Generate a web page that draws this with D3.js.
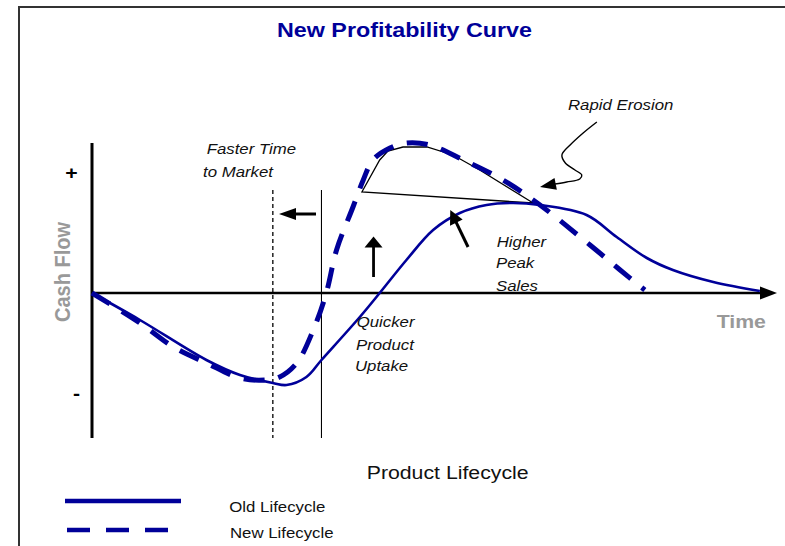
<!DOCTYPE html>
<html>
<head>
<meta charset="utf-8">
<script src="https://cdn.jsdelivr.net/npm/d3@7"></script>
<style>
  body { margin: 0; background: #fff; }
  svg { display: block; font-family: "Liberation Sans", Arial, sans-serif; }
</style>
</head>
<body>
<svg id="chart" width="785" height="546"></svg>
<script>
// time units on x, cash flow units on y
const oldX = [0, 0.70, 1.67, 2.16, 2.64, 2.84, 3.13, 3.35, 3.91, 4.20, 4.59, 4.98, 5.37, 5.76, 6.15, 6.54, 7.22, 7.66, 8.10, 8.48, 9.07, 9.75];
const oldY = [0, -0.27, -0.67, -0.82, -0.90, -0.92, -0.84, -0.67, -0.24, 0, 0.33, 0.63, 0.80, 0.88, 0.90, 0.88, 0.78, 0.56, 0.35, 0.23, 0.11, 0.02];

const newX = [0, 0.70, 1.19, 1.67, 2.16, 2.53, 2.74, 2.99, 3.23, 3.42, 3.57, 3.81, 3.96, 4.10, 4.35, 4.59, 4.93, 5.42, 6.00, 6.54, 7.27, 7.71, 8.07];
const newY = [0, -0.30, -0.54, -0.70, -0.85, -0.87, -0.84, -0.70, -0.37, 0, 0.43, 0.86, 1.13, 1.33, 1.45, 1.50, 1.48, 1.33, 1.13, 0.88, 0.48, 0.23, 0.03];

// outline of the extra peak (higher peak sales)
const peakX = [3.94, 4.20, 4.32, 4.54, 4.89, 5.27, 5.66, 6.44];
const peakY = [1.01, 1.33, 1.42, 1.46, 1.46, 1.38, 1.23, 0.90];

// squiggly "rapid erosion" pointer
const erosionX = [7.37, 7.17, 6.98, 6.86, 6.91, 7.05, 7.15, 7.12, 6.93, 6.76, 6.54];
const erosionY = [1.71, 1.60, 1.48, 1.38, 1.30, 1.23, 1.18, 1.14, 1.11, 1.09, 1.06];

const launchOld = 3.35;
const launchNew = 2.64;
const tickLabels = ['+', '-'];
const tickValues = [1.21, -1.0];

const legendLabels = ['Old Lifecycle', 'New Lifecycle'];

const navy = '#000099';
const gray = '#999999';
const SX = 1.12; // the original text is a little wide

const svg = d3.select('#chart');
svg.append('rect').attr('width', 785).attr('height', 546).attr('fill', '#fff');

// frame
svg.append('path')
  .attr('d', 'M19,546 V7 H785')
  .attr('fill', 'none')
  .attr('stroke', '#333')
  .attr('stroke-width', 2);

const x = d3.scaleLinear().domain([0, 10]).range([92, 777]);
const y = d3.scaleLinear().domain([-1.45, 1.5]).range([438, 143]);

function label(str, px, py, opts) {
  opts = opts || {};
  return svg.append('text')
    .attr('transform', `translate(${px},${py}) scale(${SX},1)` + (opts.rotate ? ` rotate(${opts.rotate})` : ''))
    .attr('text-anchor', opts.anchor || 'start')
    .attr('font-size', opts.size || 15)
    .attr('font-weight', opts.weight || 'normal')
    .attr('font-style', opts.style || 'normal')
    .attr('fill', opts.fill || '#111')
    .text(str);
}

function arrowHead(x1, y1, x2, y2, len, half) {
  const dx = x2 - x1, dy = y2 - y1;
  const d = Math.sqrt(dx * dx + dy * dy);
  const ux = dx / d, uy = dy / d;
  const bx = x2 - ux * len, by = y2 - uy * len;
  svg.append('path')
    .attr('d', `M${x2},${y2} L${bx - uy * half},${by + ux * half} L${bx + uy * half},${by - ux * half} Z`)
    .attr('fill', '#000');
}

function arrow(x1, y1, x2, y2, w, len, half) {
  const px1 = x(x1), py1 = y(y1), px2 = x(x2), py2 = y(y2);
  const d = Math.hypot(px2 - px1, py2 - py1);
  svg.append('line')
    .attr('x1', px1).attr('y1', py1)
    .attr('x2', px2 - (px2 - px1) / d * (len - 2))
    .attr('y2', py2 - (py2 - py1) / d * (len - 2))
    .attr('stroke', '#000').attr('stroke-width', w);
  arrowHead(px1, py1, px2, py2, len, half);
}

// title
label('New Profitability Curve', 404.5, 36.7, { anchor: 'middle', size: 21, weight: 'bold', fill: navy })
  .attr('transform', `translate(404.5,36.7) scale(1.11,1)`);

// axes
svg.append('line')
  .attr('x1', x(0)).attr('x2', x(0))
  .attr('y1', y(1.5)).attr('y2', y(-1.45))
  .attr('stroke', '#000').attr('stroke-width', 3);

svg.append('line')
  .attr('x1', x(0)).attr('x2', x(10) - 15)
  .attr('y1', y(0)).attr('y2', y(0))
  .attr('stroke', '#000').attr('stroke-width', 2.5);
arrowHead(x(0), y(0), x(10), y(0), 17, 6.5);

tickLabels.forEach((t, i) => {
  label(t, x(0) - (i === 0 ? 20.5 : 15.5), y(tickValues[i]) + 6.5, { anchor: 'middle', size: 19, weight: 'bold', fill: '#000' });
});

label('Cash Flow', 70, y(0.21), { anchor: 'middle', size: 20, weight: 'bold', fill: gray, rotate: -90 });
label('Time', 716.7, 328, { size: 19, weight: 'bold', fill: gray });

// launch lines
svg.append('line')
  .attr('x1', x(launchNew)).attr('x2', x(launchNew))
  .attr('y1', y(1.03)).attr('y2', y(-1.45))
  .attr('stroke', '#000').attr('stroke-width', 1.3)
  .attr('stroke-dasharray', '4,3');
svg.append('line')
  .attr('x1', x(launchOld)).attr('x2', x(launchOld))
  .attr('y1', y(1.03)).attr('y2', y(-1.45))
  .attr('stroke', '#000').attr('stroke-width', 1.1);

// peak outline
const outline = d3.line().x(d => x(d[0])).y(d => y(d[1])).curve(d3.curveLinearClosed);
svg.append('path')
  .attr('d', outline(d3.zip(peakX, peakY)))
  .attr('fill', 'none')
  .attr('stroke', '#000')
  .attr('stroke-width', 1.3);

// curves
const line = d3.line().x(d => x(d[0])).y(d => y(d[1])).curve(d3.curveCatmullRom.alpha(0.5));

svg.append('path')
  .attr('d', line(d3.zip(oldX, oldY)))
  .attr('fill', 'none')
  .attr('stroke', navy)
  .attr('stroke-width', 2.6);

svg.append('path')
  .attr('d', line(d3.zip(newX, newY)))
  .attr('fill', 'none')
  .attr('stroke', navy)
  .attr('stroke-width', 5)
  .attr('stroke-dasharray', '21,14');

// annotation arrows
arrow(3.27, 0.79, 2.73, 0.79, 3, 17, 6);
arrow(4.11, 0.16, 4.11, 0.565, 2.8, 11, 9);
arrow(5.49, 0.46, 5.23, 0.83, 3, 14, 7);

const squiggle = d3.line().x(d => x(d[0])).y(d => y(d[1])).curve(d3.curveCatmullRom.alpha(0.5));
const sq = d3.zip(erosionX, erosionY);
svg.append('path')
  .attr('d', squiggle(sq.slice(0, sq.length - 1)))
  .attr('fill', 'none')
  .attr('stroke', '#000')
  .attr('stroke-width', 1.4);
arrowHead(x(sq[sq.length - 2][0]), y(sq[sq.length - 2][1]), x(sq[sq.length - 1][0]), y(sq[sq.length - 1][1]), 16, 6);

// annotation texts
label('Faster Time', 206.7, 154, { style: 'italic' });
label('to Market', 203, 177, { style: 'italic' });
label('Rapid Erosion', 568, 110, { style: 'italic' });
label('Higher', 496.7, 246.7, { style: 'italic' });
label('Peak', 496, 268.3, { style: 'italic' });
label('Sales', 496, 290.7, { style: 'italic' });
label('Quicker', 356.7, 327, { style: 'italic' });
label('Product', 356, 350, { style: 'italic' });
label('Uptake', 355, 371, { style: 'italic' });

label('Product Lifecycle', 366.7, 479, { size: 19 });

// legend
svg.append('line')
  .attr('x1', 65).attr('x2', 181).attr('y1', 501).attr('y2', 501)
  .attr('stroke', navy).attr('stroke-width', 4.5);
svg.append('line')
  .attr('x1', 67).attr('x2', 169).attr('y1', 530).attr('y2', 530)
  .attr('stroke', navy).attr('stroke-width', 4.5)
  .attr('stroke-dasharray', '23,16');
label(legendLabels[0], 229.3, 511.7, { size: 15 });
label(legendLabels[1], 230, 538, { size: 15 });
</script>
</body>
</html>
